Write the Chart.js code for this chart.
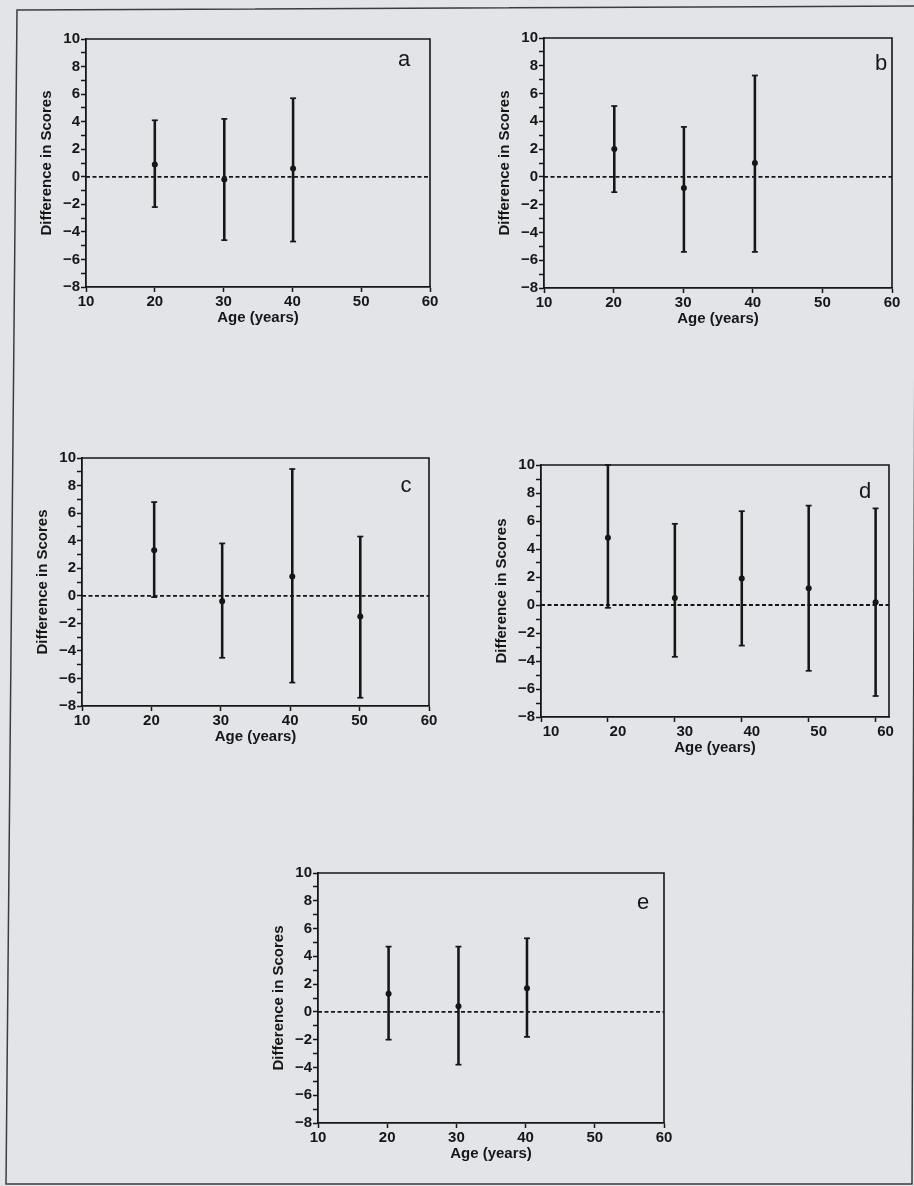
<!DOCTYPE html>
<html>
<head>
<meta charset="utf-8">
<title>Difference in Scores by Age</title>
<script src="https://cdn.jsdelivr.net/npm/chart.js@4.4.1/dist/chart.umd.min.js"></script>
<style>
  html, body { margin: 0; padding: 0; background: #e2e4e8; }
  body { width: 914px; height: 1186px; position: relative; overflow: hidden; }
  canvas { position: absolute; }
  svg { position: absolute; left: 0; top: 0; }
</style>
</head>
<body>
<svg width="914" height="1186"><polygon points="17,10 916,6 912,1184 6,1184" fill="none" stroke="#3c3c3c" stroke-width="1.5"/></svg>
<canvas id="panelA"></canvas>
<canvas id="panelB"></canvas>
<canvas id="panelC"></canvas>
<canvas id="panelD"></canvas>
<canvas id="panelE"></canvas>
<script>
// Axis tick values
const ageTicks = [10, 20, 30, 40, 50, 60];
const scoreTicks = [10, 8, 6, 4, 2, 0, -2, -4, -6, -8];

// Panel a
const ageA = [20, 30.1, 40.1];
const meanA = [0.9, -0.2, 0.6];
const upperA = [4.1, 4.2, 5.7];
const lowerA = [-2.2, -4.6, -4.7];

// Panel b
const ageB = [20.1, 30.1, 40.3];
const meanB = [2.0, -0.8, 1.0];
const upperB = [5.1, 3.6, 7.3];
const lowerB = [-1.1, -5.4, -5.4];

// Panel c
const ageC = [20.4, 30.2, 40.3, 50.1];
const meanC = [3.3, -0.4, 1.4, -1.5];
const upperC = [6.8, 3.8, 9.2, 4.3];
const lowerC = [-0.1, -4.5, -6.3, -7.4];

// Panel d
const ageD = [20, 30, 40, 50, 60];
const meanD = [4.8, 0.5, 1.9, 1.2, 0.2];
const upperD = [10.0, 5.8, 6.7, 7.1, 6.9];
const lowerD = [-0.2, -3.7, -2.9, -4.7, -6.5];

// Panel e
const ageE = [20.2, 30.3, 40.2];
const meanE = [1.3, 0.4, 1.7];
const upperE = [4.7, 4.7, 5.3];
const lowerE = [-2.0, -3.8, -1.8];

const INK = '#161616';
const FONT = "'Liberation Sans', Arial, Helvetica, sans-serif";

// Frame around the plot area and the panel letter
const framePlugin = {
  id: 'frame',
  afterDraw(chart, args, opts) {
    const { ctx, chartArea: a } = chart;
    ctx.save();
    ctx.strokeStyle = INK;
    ctx.lineWidth = 1.6;
    ctx.beginPath();
    ctx.moveTo(a.left, a.top);
    ctx.lineTo(a.right, a.top);
    ctx.lineTo(a.right, a.bottom);
    ctx.stroke();
    ctx.fillStyle = INK;
    ctx.font = '22px ' + FONT;
    ctx.textAlign = 'center';
    ctx.textBaseline = 'alphabetic';
    ctx.fillText(opts.letter, a.right - opts.dx, a.top + opts.dy);
    ctx.restore();
  }
};

function scoreLabel(v) {
  if (!scoreTicks.includes(v)) return '';
  return v < 0 ? '\u2212' + Math.abs(v) : String(v);
}

function makePanel(id, box, letter, ages, means, uppers, lowers, extra) {
  const pad = { left: 4, top: 12, right: 18, bottom: 4 };
  const yW = 56, xH = 40;
  const cv = document.getElementById(id);
  cv.width = box.w + pad.left + yW + pad.right;
  cv.height = box.h + pad.top + xH + pad.bottom;
  cv.style.left = (box.x - pad.left - yW) + 'px';
  cv.style.top = (box.y - pad.top) + 'px';

  const xMax = extra.xMax || 60;
  const ranges = ages.map((a, i) => ({ x: a, y: [lowers[i], uppers[i]] }));
  const caps = ages.map((a, i) => ({ x: a, y: uppers[i] }))
    .concat(ages.map((a, i) => ({ x: a, y: lowers[i] })));
  const points = ages.map((a, i) => ({ x: a, y: means[i] }));

  const tickFont = { family: FONT, size: 15, weight: 'bold' };

  new Chart(cv, {
    type: 'scatter',
    data: {
      datasets: [
        {
          type: 'line',
          data: [{ x: 10, y: 0 }, { x: xMax, y: 0 }],
          borderColor: INK, borderWidth: 1.8, borderDash: [4, 2.5],
          pointRadius: 0, order: 4
        },
        {
          type: 'bar',
          data: ranges,
          backgroundColor: INK, barThickness: 1.9, order: 3, clip: false
        },
        {
          data: caps,
          pointStyle: 'line', pointRadius: 3, borderColor: INK, borderWidth: 1.7,
          order: 2, clip: false
        },
        {
          data: points,
          pointStyle: 'circle', pointRadius: 3, backgroundColor: INK, borderWidth: 0,
          order: 1
        }
      ]
    },
    options: {
      responsive: false,
      animation: false,
      devicePixelRatio: 1,
      layout: { padding: pad },
      plugins: {
        legend: { display: false },
        tooltip: { enabled: false },
        frame: { letter: letter, dx: extra.dx, dy: extra.dy }
      },
      scales: {
        x: {
          type: 'linear', min: 10, max: xMax, offset: false,
          afterBuildTicks: s => { s.ticks = ageTicks.map(v => ({ value: v })); },
          afterFit: s => { s.height = xH; },
          grid: { display: true, offset: false, drawOnChartArea: false, drawTicks: true, tickLength: 5, tickColor: INK, tickWidth: 1.5 },
          border: { display: true, color: INK, width: 1.8 },
          ticks: { color: INK, font: tickFont, padding: 1, maxRotation: 0, autoSkip: false, labelOffset: extra.labelOffset || 0 },
          title: { display: true, text: 'Age (years)', color: INK, font: tickFont, padding: { top: 0, bottom: 0 } }
        },
        y: {
          type: 'linear', min: -8, max: 10,
          afterBuildTicks: s => {
            const t = [];
            for (let v = -8; v <= 10; v++) t.push({ value: v });
            s.ticks = t;
          },
          afterFit: s => { s.width = yW; },
          grid: { display: true, offset: false, drawOnChartArea: false, drawTicks: true, tickLength: 5, tickColor: INK, tickWidth: 1.5 },
          border: { display: true, color: INK, width: 1.8 },
          ticks: { color: INK, font: tickFont, padding: 1, autoSkip: false, callback: v => scoreLabel(v) },
          title: { display: true, text: 'Difference in Scores', color: INK, font: tickFont, padding: { top: 8, bottom: 0 } }
        }
      }
    },
    plugins: [framePlugin]
  });
}

makePanel('panelA', { x: 86, y: 39, w: 344, h: 248 }, 'a', ageA, meanA, upperA, lowerA, { dx: 26, dy: 27 });
makePanel('panelB', { x: 544, y: 38, w: 348, h: 250 }, 'b', ageB, meanB, upperB, lowerB, { dx: 11, dy: 32 });
makePanel('panelC', { x: 82, y: 458, w: 347, h: 248 }, 'c', ageC, meanC, upperC, lowerC, { dx: 23, dy: 34 });
makePanel('panelD', { x: 541, y: 465, w: 348, h: 252 }, 'd', ageD, meanD, upperD, lowerD, { dx: 24, dy: 33, xMax: 62, labelOffset: 10 });
makePanel('panelE', { x: 318, y: 873, w: 346, h: 250 }, 'e', ageE, meanE, upperE, lowerE, { dx: 21, dy: 36 });
</script>
</body>
</html>
